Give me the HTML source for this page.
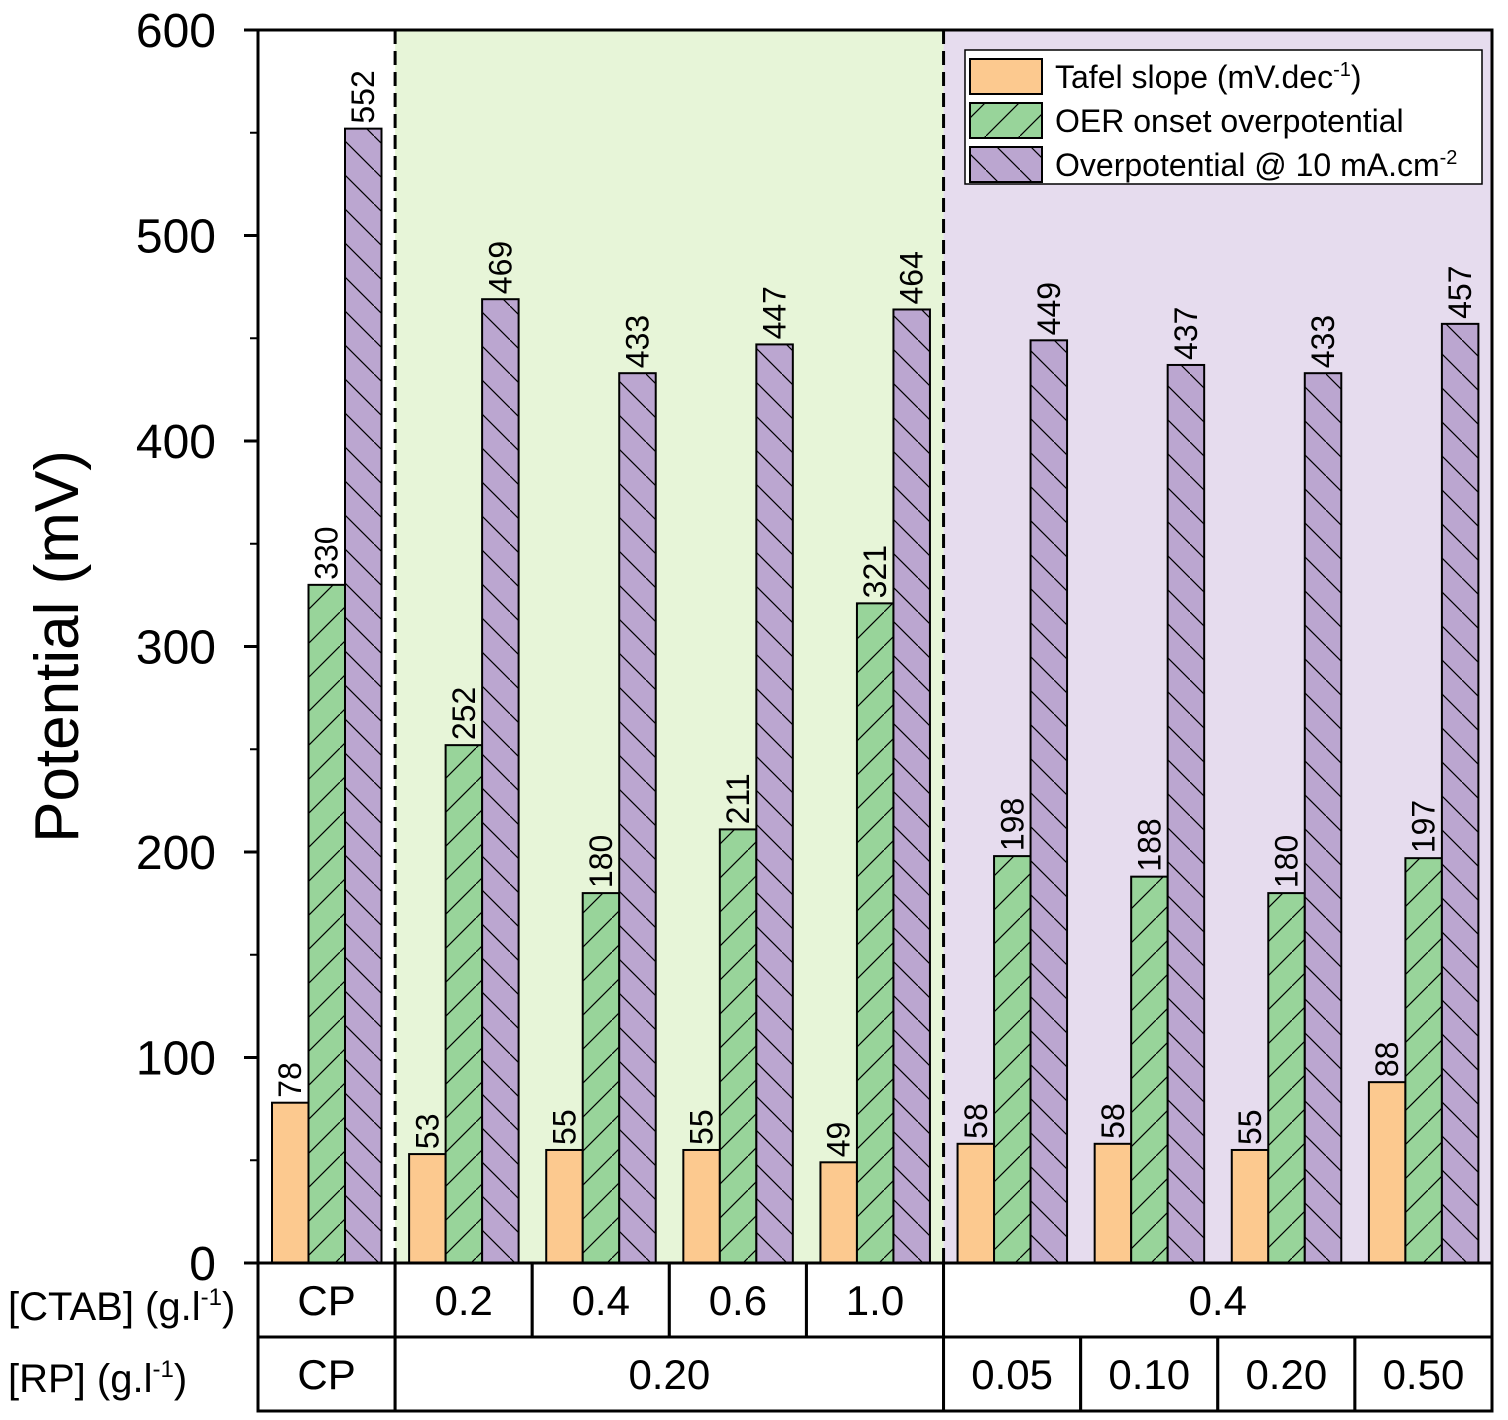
<!DOCTYPE html>
<html><head><meta charset="utf-8"><style>body{margin:0;background:#fff}svg{display:block;font-family:"Liberation Sans",Arial,sans-serif}</style></head>
<body>
<svg id="chart" width="1508" height="1420" viewBox="0 0 1508 1420">
<defs>
<pattern id="hg" width="34" height="34" patternUnits="userSpaceOnUse"><rect width="34" height="34" fill="#98d49a"/><path d="M-2,36 L36,-2" stroke="#000" stroke-width="1.2"/></pattern>
<pattern id="hp" width="34" height="34" patternUnits="userSpaceOnUse"><rect width="34" height="34" fill="#bba6d0"/><path d="M-2,-2 L36,36" stroke="#000" stroke-width="1.2"/></pattern>
</defs>
<g id="bg"></g><g id="bars"></g><g id="axes"></g>
</svg>
<script>
const categories=["CP","0.2","0.4","0.6","1.0","0.05","0.10","0.20","0.50"];
const tafel=[78,53,55,55,49,58,58,55,88];
const onset=[330,252,180,211,321,198,188,180,197];
const eta10=[552,469,433,447,464,449,437,433,457];
const yTicks=[0,100,200,300,400,500,600];
const ctabRow=[["CP",1],["0.2",1],["0.4",1],["0.6",1],["1.0",1],["0.4",4]];
const rpRow=[["CP",1],["0.20",4],["0.05",1],["0.10",1],["0.20",1],["0.50",1]];
const NS="http://www.w3.org/2000/svg";
const X0=258,X1=1492,Y0=1263,Y1=30,gw=(X1-X0)/categories.length,bw=36.5;
const y=v=>Y0-(v/600)*(Y0-Y1);
const gx=i=>X0+i*gw;
function mk(tag,attrs,parent,text){const e=document.createElementNS(NS,tag);for(const k in attrs)e.setAttribute(k,attrs[k]);if(text!==undefined)e.textContent=text;parent.appendChild(e);return e;}
const bg=document.getElementById('bg'),bars=document.getElementById('bars'),ax=document.getElementById('axes');
let r=mk('rect',{x:gx(1),y:Y1,width:gw*4,height:Y0-Y1,fill:'#e7f5d8'},bg);


r=mk('rect',{x:gx(5),y:Y1,width:gw*4,height:Y0-Y1,fill:'#e6dcee'},bg);


const series=[[tafel,'#fcc98f','tafel'],[onset,'url(#hg)','onset'],[eta10,'url(#hp)','eta10']];
categories.forEach((c,i)=>{
 series.forEach((s,j)=>{
  const v=s[0][i],x=gx(i)+14+j*bw;
  const b=mk('rect',{x:x,y:y(v),width:bw,height:Y0-y(v),fill:s[1],stroke:'#000','stroke-width':2},bars);
  
  
  const cx=x+bw/2+11,cy=y(v)-5;
  const t=mk('text',{x:cx,y:cy,'font-size':32,transform:`rotate(-90 ${cx} ${cy})`},bars,String(v));
  
  
 });
});
[gx(1),gx(5)].forEach(x=>{const l=mk('line',{x1:x,y1:Y1,x2:x,y2:Y0,stroke:'#000','stroke-width':3,'stroke-dasharray':'14,7'},ax);

});
let f=mk('rect',{x:X0,y:Y1,width:X1-X0,height:Y0-Y1,fill:'none',stroke:'#000','stroke-width':3},ax);


yTicks.forEach(v=>{
 mk('line',{x1:X0-14,x2:X0,y1:y(v),y2:y(v),stroke:'#000','stroke-width':3},ax);
 if(v<600)mk('line',{x1:X0-8,x2:X0,y1:y(v+50),y2:y(v+50),stroke:'#000','stroke-width':2},ax);
 const t=mk('text',{x:216,y:y(v)+17,'font-size':48,'text-anchor':'end'},ax,String(v));
 
 
});
let yt=mk('text',{x:78,y:(Y0+Y1)/2,'font-size':62,'text-anchor':'middle',transform:`rotate(-90 78 ${(Y0+Y1)/2})`},ax,'Potential (mV)');


function row(cells,top,h,name){let i=0;cells.forEach(([t,n])=>{const x=gx(i);
 mk('rect',{x:x,y:top,width:gw*n,height:h,fill:'#fff',stroke:'#000','stroke-width':3},ax);
 const e=mk('text',{x:x+gw*n/2,y:top+h/2+15,'font-size':42,'text-anchor':'middle'},ax,t);
 
 
 i+=n;});}
row(ctabRow,Y0,74,'ctab');row(rpRow,Y0+74,74,'rp');
let a=mk('text',{x:8,y:1320,'font-size':40},ax);a.innerHTML='[CTAB] (g.l<tspan dy="-15" font-size="24">-1</tspan><tspan dy="15">)</tspan>';


a=mk('text',{x:8,y:1392,'font-size':40},ax);a.innerHTML='[RP] (g.l<tspan dy="-15" font-size="24">-1</tspan><tspan dy="15">)</tspan>';


const lg=mk('g',{},ax);


mk('rect',{x:965,y:50,width:517,height:134,fill:'#fff',stroke:'#000','stroke-width':1.5},lg);
const ltxt=['Tafel slope (mV.dec<tspan dy="-12" font-size="20">-1</tspan><tspan dy="12">)</tspan>','OER onset overpotential','Overpotential @ 10 mA.cm<tspan dy="-12" font-size="20">-2</tspan>'];
series.forEach((s,j)=>{const yy=59+j*44;
 const sw=mk('rect',{x:970,y:yy,width:72,height:35,fill:s[1],stroke:'#000','stroke-width':2},lg);
 
 
 const t=mk('text',{x:1055,y:yy+29,'font-size':32},lg);t.innerHTML=ltxt[j];
 
 
});
</script>
</body></html>
